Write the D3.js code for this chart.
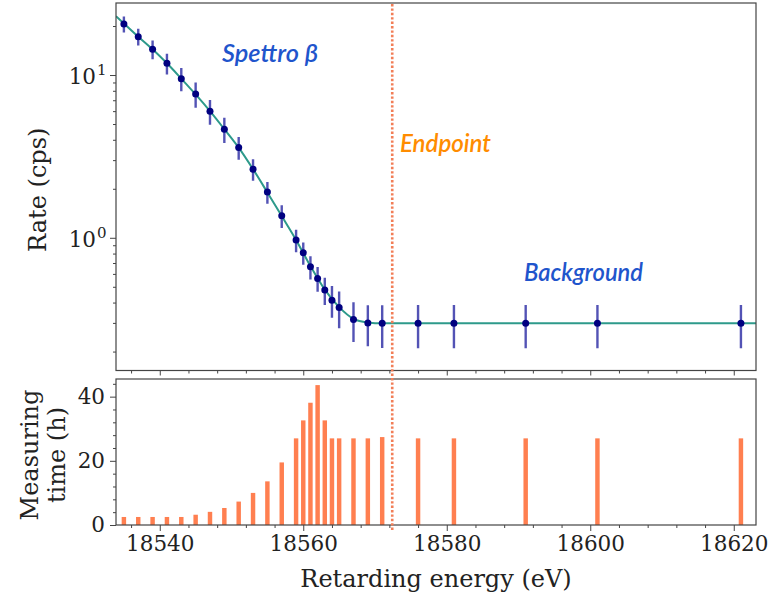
<!DOCTYPE html>
<html>
<head>
<meta charset="utf-8">
<script src="https://cdn.jsdelivr.net/npm/d3@7"></script>
<style>
body { margin: 0; background: #fff; }
</style>
</head>
<body>
<div id="chart"></div>
<script>
// retarding energies (eV) of the measured points
const energy = [18535, 18537, 18539, 18541, 18543, 18545, 18547, 18549, 18551, 18553,
	18555, 18557, 18559, 18560, 18561, 18562, 18563, 18564, 18565, 18567, 18569, 18571,
	18576, 18581, 18591, 18601, 18621];
// measured rate (cps) and its error
const rate = [20.6, 17.2, 14.4, 11.8, 9.49, 7.64, 5.98, 4.64, 3.59, 2.64,
	1.91, 1.365, 0.968, 0.809, 0.663, 0.563, 0.477, 0.414, 0.373, 0.315, 0.300, 0.298,
	0.298, 0.298, 0.298, 0.298, 0.298];
const rateErr = [2.32, 2.02, 1.90, 1.72, 1.55, 1.35, 1.035, 0.82, 0.571, 0.402,
	0.291, 0.217, 0.152, 0.127, 0.108, 0.0975, 0.091, 0.0913, 0.0948, 0.0862, 0.0847, 0.0874,
	0.0885, 0.0885, 0.0885, 0.0885, 0.0885];
// measuring time (h) per point
const hours = [2.5, 2.5, 2.5, 2.5, 2.5, 3.2, 4.1, 5.3, 7.3, 10.0,
	13.6, 19.5, 27.0, 32.6, 38.1, 43.6, 32.6, 27.0, 27.0, 27.0, 27.0, 27.4,
	27.0, 27.0, 27.0, 27.0, 27.0];

// fitted model
const fitEnergy = [18533.9, 18535, 18537, 18539, 18541, 18543, 18545, 18547, 18549, 18551,
	18553, 18555, 18557, 18559, 18561, 18563, 18565, 18567, 18569, 18571, 18575, 18623.1];
const fitRate = [23.0, 20.7, 17.2, 14.4, 11.8, 9.5, 7.6, 6.0, 4.65, 3.58,
	2.64, 1.90, 1.36, 0.97, 0.67, 0.48, 0.375, 0.318, 0.302, 0.298, 0.298, 0.298];

const endpointEnergy = 18572.4;
const energyTicks = [18540, 18560, 18580, 18600, 18620];
const rateTicks = [1, 10];
const hourTicks = [0, 20, 40];

const WIDTH = 782;
const HEIGHT = 597;
const LEFT = 116;
const RIGHT = 756;
const TOP_PANEL = [3, 370.5];
const BOTTOM_PANEL = [379, 525];
const FONT = "'DejaVu Serif', serif";
const HAND = "'Lato', 'Open Sans', sans-serif";
const AXIS_COLOR = "#444";
const TICK_FONT_SIZE = 21.5;
const LABEL_FONT_SIZE = 24;

const svg = d3.select("#chart").append("svg")
	.attr("width", WIDTH)
	.attr("height", HEIGHT);

const x = d3.scaleLinear()
	.domain([18533.9, 18623.1])
	.range([LEFT, RIGHT]);

const y = d3.scaleLog()
	.domain([0.153, 27.7])
	.range([TOP_PANEL[1], TOP_PANEL[0]]);

const yHours = d3.scaleLinear()
	.domain([0, 45.5])
	.range([BOTTOM_PANEL[1], BOTTOM_PANEL[0]]);

function styleAxis(g) {
	g.select(".domain").remove();
	g.selectAll("line").attr("stroke", AXIS_COLOR).attr("stroke-width", 1);
	g.selectAll("text")
		.attr("fill", "#222")
		.style("font-family", FONT)
		.style("font-size", TICK_FONT_SIZE + "px");
}

function minorAxis(axis, values, transform) {
	svg.append("g")
		.attr("transform", transform)
		.call(axis.tickValues(values).tickSize(3).tickFormat(""))
		.call(styleAxis);
}

const defs = svg.append("defs");
defs.append("clipPath").attr("id", "clip-top")
	.append("rect")
	.attr("x", LEFT).attr("y", TOP_PANEL[0])
	.attr("width", RIGHT - LEFT).attr("height", TOP_PANEL[1] - TOP_PANEL[0]);

// ---- top panel: rate ----
const minorRate = y.ticks().filter(d => Math.abs(Math.log10(d) - Math.round(Math.log10(d))) > 1e-6);

minorAxis(d3.axisLeft(y), minorRate, `translate(${LEFT},0)`);
svg.append("g")
	.attr("class", "y-axis")
	.attr("transform", `translate(${LEFT},0)`)
	.call(d3.axisLeft(y).tickValues(rateTicks).tickSize(6).tickFormat(""))
	.call(styleAxis)
	.call(g => g.selectAll(".tick").append("text")
		.attr("x", -20)
		.attr("dy", "0.4em")
		.attr("text-anchor", "end")
		.attr("fill", "#222")
		.style("font-family", FONT)
		.style("font-size", TICK_FONT_SIZE + "px")
		.text("10"))
	.call(g => g.selectAll(".tick").append("text")
		.attr("x", -19)
		.attr("dy", "-0.05em")
		.attr("text-anchor", "start")
		.attr("fill", "#222")
		.style("font-family", FONT)
		.style("font-size", "15px")
		.text(d => Math.round(Math.log10(d))));

svg.append("g")
	.attr("transform", `translate(0,${TOP_PANEL[1]})`)
	.call(d3.axisBottom(x).tickValues(energyTicks).tickSize(5).tickFormat(""))
	.call(styleAxis);
minorAxis(d3.axisBottom(x), d3.range(18536, 18623, 4).filter(d => !energyTicks.includes(d)),
	`translate(0,${TOP_PANEL[1]})`);

const plot = svg.append("g").attr("clip-path", "url(#clip-top)");

const points = energy.map((e, i) => ({e, r: rate[i], err: rateErr[i]}));

plot.append("g")
	.attr("class", "error-bars")
	.selectAll("line")
	.data(points)
	.join("line")
	.attr("x1", d => x(d.e))
	.attr("x2", d => x(d.e))
	.attr("y1", d => y(d.r + d.err))
	.attr("y2", d => y(d.r - d.err))
	.attr("stroke", "#3535a8")
	.attr("stroke-opacity", 0.85)
	.attr("stroke-width", 2.4);

plot.append("path")
	.datum(fitEnergy.map((e, i) => [e, fitRate[i]]))
	.attr("fill", "none")
	.attr("stroke", "#2e9a8b")
	.attr("stroke-width", 2)
	.attr("d", d3.line().x(d => x(d[0])).y(d => y(d[1])).curve(d3.curveMonotoneX));

plot.append("g")
	.attr("class", "points")
	.selectAll("circle")
	.data(points)
	.join("circle")
	.attr("cx", d => x(d.e))
	.attr("cy", d => y(d.r))
	.attr("r", 3.5)
	.attr("fill", "#000080");

svg.append("rect")
	.attr("x", LEFT).attr("y", TOP_PANEL[0])
	.attr("width", RIGHT - LEFT).attr("height", TOP_PANEL[1] - TOP_PANEL[0])
	.attr("fill", "none")
	.attr("stroke", AXIS_COLOR)
	.attr("stroke-width", 1.2);

// ---- bottom panel: measuring time ----
svg.append("g")
	.attr("class", "bars")
	.selectAll("rect")
	.data(energy.map((e, i) => ({e, h: hours[i]})))
	.join("rect")
	.attr("x", d => x(d.e - 0.31))
	.attr("width", x(18540.62) - x(18540))
	.attr("y", d => yHours(d.h))
	.attr("height", d => yHours(0) - yHours(d.h))
	.attr("fill", "#ff7f50");

minorAxis(d3.axisLeft(yHours), d3.range(4, 45, 4).filter(d => !hourTicks.includes(d)),
	`translate(${LEFT},0)`);
svg.append("g")
	.attr("transform", `translate(${LEFT},0)`)
	.call(d3.axisLeft(yHours).tickValues(hourTicks).tickSize(6).tickPadding(5))
	.call(styleAxis);

minorAxis(d3.axisBottom(x), d3.range(18536, 18623, 4).filter(d => !energyTicks.includes(d)),
	`translate(0,${BOTTOM_PANEL[1]})`);
svg.append("g")
	.attr("class", "x-axis")
	.attr("transform", `translate(0,${BOTTOM_PANEL[1]})`)
	.call(d3.axisBottom(x).tickValues(energyTicks).tickSize(6).tickPadding(5).tickFormat(d3.format("d")))
	.call(styleAxis);

svg.append("rect")
	.attr("x", LEFT).attr("y", BOTTOM_PANEL[0])
	.attr("width", RIGHT - LEFT).attr("height", BOTTOM_PANEL[1] - BOTTOM_PANEL[0])
	.attr("fill", "none")
	.attr("stroke", AXIS_COLOR)
	.attr("stroke-width", 1.2);

// endpoint marker across both panels
svg.append("line")
	.attr("x1", x(endpointEnergy)).attr("x2", x(endpointEnergy))
	.attr("y1", TOP_PANEL[0] + 1).attr("y2", BOTTOM_PANEL[1] + 5)
	.attr("stroke", "#f27e57")
	.attr("stroke-width", 2.6)
	.attr("stroke-dasharray", "2.4,2");

// axis titles
svg.append("text")
	.attr("transform", `translate(46,${(TOP_PANEL[0] + TOP_PANEL[1]) / 2 + 3}) rotate(-90)`)
	.attr("text-anchor", "middle")
	.style("font-family", FONT)
	.style("font-size", LABEL_FONT_SIZE + "px")
	.attr("fill", "#222")
	.text("Rate (cps)");

const hoursTitle = svg.append("text")
	.attr("transform", `translate(38,${(BOTTOM_PANEL[0] + BOTTOM_PANEL[1]) / 2 + 3}) rotate(-90)`)
	.attr("text-anchor", "middle")
	.style("font-family", FONT)
	.style("font-size", LABEL_FONT_SIZE + "px")
	.attr("fill", "#222");
hoursTitle.append("tspan").attr("x", 0).attr("y", 0).text("Measuring");
hoursTitle.append("tspan").attr("x", 0).attr("y", 27).text("time (h)");

svg.append("text")
	.attr("x", (LEFT + RIGHT) / 2)
	.attr("y", 587)
	.attr("text-anchor", "middle")
	.style("font-family", FONT)
	.style("font-size", LABEL_FONT_SIZE + "px")
	.attr("fill", "#222")
	.text("Retarding energy (eV)");

// annotations
const notes = [
	{text: "Spettro β", x: 222, y: 62, w: 96, color: "#1f55cc"},
	{text: "Endpoint", x: 400, y: 152, w: 91, color: "#ff8c00"},
	{text: "Background", x: 524, y: 281, w: 119, color: "#1f55cc"}
];
svg.append("g")
	.selectAll("text")
	.data(notes)
	.join("text")
	.attr("x", d => d.x)
	.attr("y", d => d.y)
	.attr("textLength", d => d.w)
	.attr("lengthAdjust", "spacingAndGlyphs")
	.attr("fill", d => d.color)
	.style("font-family", HAND)
	.style("font-style", "italic")
	.style("font-weight", 600)
	.style("font-size", "24px")
	.text(d => d.text);
</script>
</body>
</html>
